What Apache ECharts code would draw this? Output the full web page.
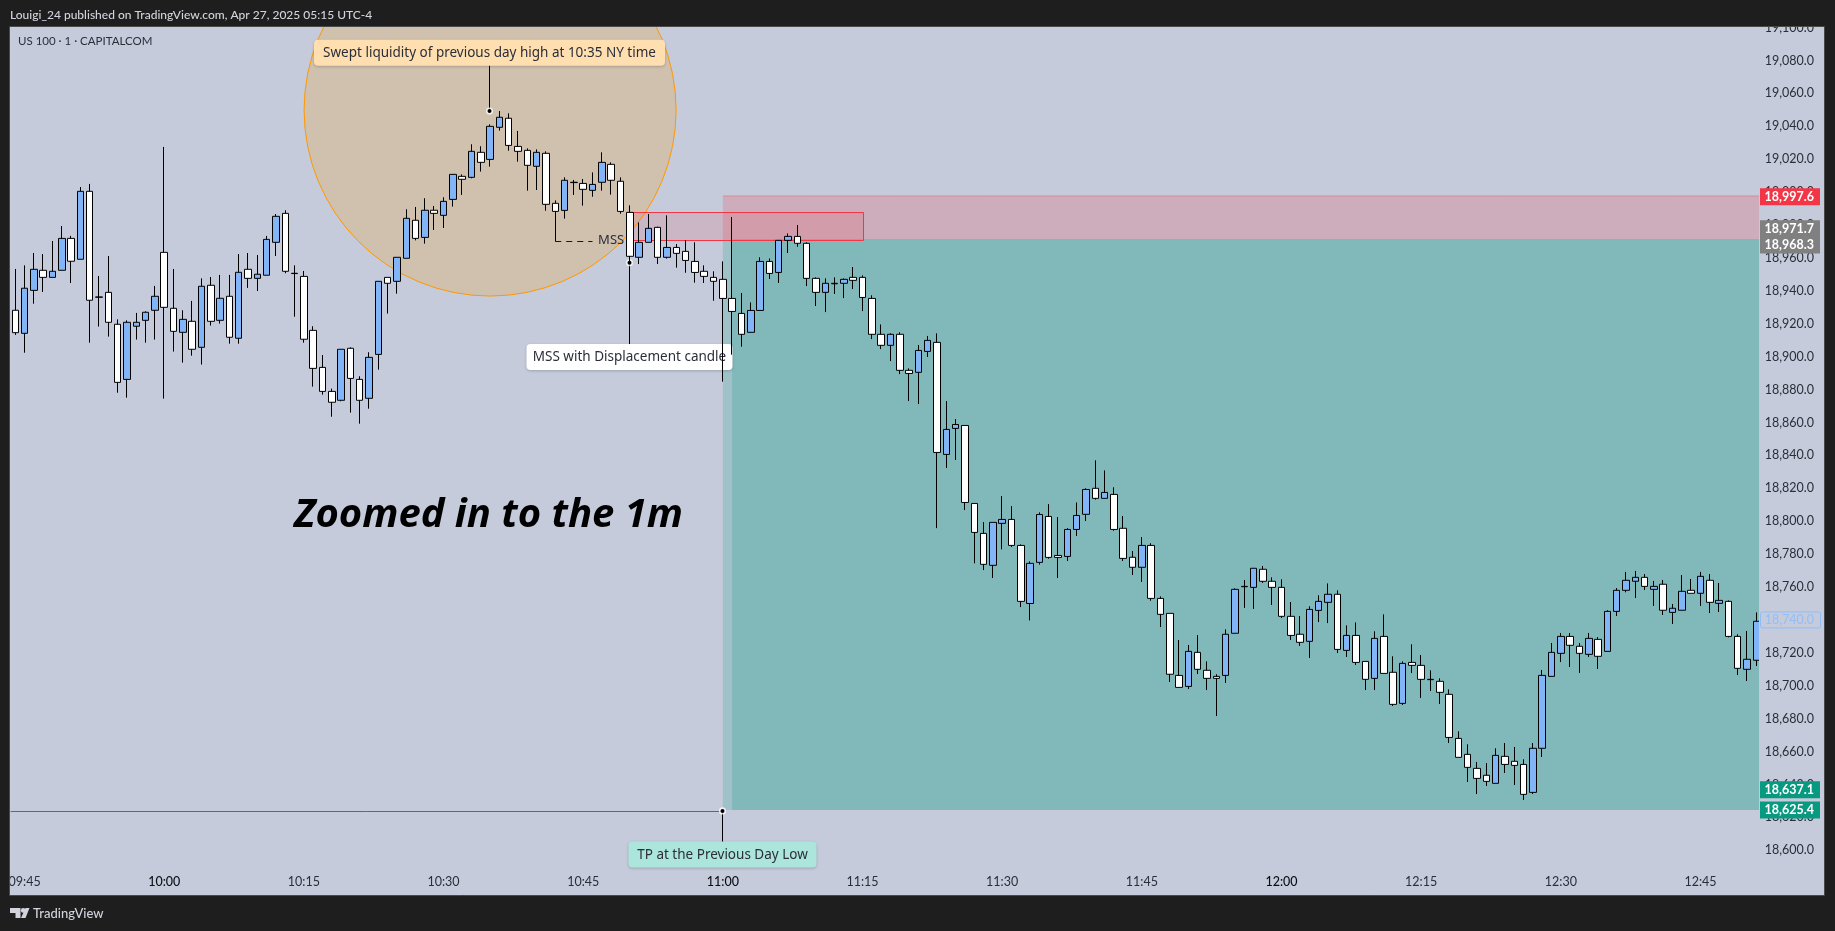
<!DOCTYPE html>
<html>
<head>
<meta charset="utf-8">
<style>html,body{margin:0;padding:0;background:#1e1e1e}#chart{width:1835px;height:931px}</style>
<script src="https://cdn.jsdelivr.net/npm/echarts@6/dist/echarts.min.js"></script>
</head>
<body>
<div id="chart"></div>
<script>
var opens = [18928.2,18914.2,18940.3,18952.5,18948.2,18952.5,18971.9,18959.2,19000.5,18936.3,
18939.1,18919.7,18886.2,18918.5,18922.1,18928.2,18963.4,18929.4,18914.8,18921.5,
18905.7,18943.4,18922.1,18936.7,18911.2,18953.1,18947.6,18949.5,18969.5,18987.1,
18950.7,18948.8,18916.0,18893.5,18878.9,18873.5,18905.1,18886.2,18874.7,18901.4,
18948.2,18945.8,18959.8,18982.9,18972.5,18989.0,18985.9,18995.6,19009.6,19009.0,
19024.2,19019.9,19039.4,19044.9,19027.8,19025.4,19015.7,19023.6,18993.2,18988.9,
19006.0,19005.3,19001.1,19006.0,19016.9,19006.6,18987.7,18960.4,18969.5,18978.6,
18960.4,18966.4,18964.0,18957.9,18951.9,18948.2,18947.0,18935.4,18926.3,18914.8,
18928.1,18957.9,18951.2,18970.7,18973.1,18968.9,18947.6,18939.1,18944.6,18944.6,
18948.2,18948.2,18935.4,18913.6,18906.9,18913.6,18891.7,18890.5,18903.2,18908.7,
18840.6,18856.4,18858.2,18810.8,18792.6,18773.2,18798.7,18801.1,18785.3,18750.0,
18775.0,18802.9,18779.2,18778.6,18795.0,18804.2,18820.0,18813.9,18816.3,18795.7,
18778.1,18772.0,18785.3,18753.1,18744.0,18706.3,18699.6,18720.3,18709.4,18705.7,
18706.3,18731.9,18760.4,18759.8,18770.8,18763.5,18759.8,18742.2,18731.3,18727.0,
18745.8,18750.7,18755.6,18721.5,18730.6,18714.8,18704.5,18730.0,18708.2,18689.3,
18714.2,18712.4,18703.9,18702.7,18694.8,18668.0,18658.3,18649.8,18645.6,18640.7,
18657.1,18654.1,18652.2,18635.2,18662.0,18705.7,18719.7,18730.0,18724.0,18719.1,
18728.2,18720.9,18745.2,18758.0,18763.5,18765.9,18758.6,18761.7,18744.6,18745.9,
18758.0,18756.2,18764.1,18750.1,18751.3,18730.0,18710.0,18715.5];
var closes = [18914.6,18941.6,18953.1,18948.2,18951.9,18971.9,18958.0,19000.5,18934.3,18936.1,
18920.9,18884.4,18920.9,18920.9,18927.0,18936.7,18930.0,18915.4,18922.7,18904.5,
18942.8,18921.5,18935.5,18911.8,18951.3,18947.6,18950.1,18971.3,18985.3,18951.9,
18950.5,18910.6,18892.9,18878.9,18872.3,18904.5,18886.8,18873.5,18899.6,18945.8,
18944.6,18960.4,18984.1,18971.9,18989.0,18987.1,18994.4,19010.8,19007.8,19024.8,
19018.1,19040.0,19045.5,19028.4,19024.8,19016.3,19024.2,18992.6,18988.3,19007.2,
19005.8,19001.7,19004.7,19018.1,19007.2,18988.3,18961.0,18969.5,18978.0,18960.4,
18966.4,18962.8,18958.5,18951.2,18948.8,18945.8,18935.4,18927.5,18913.6,18928.1,
18957.9,18950.6,18970.7,18973.1,18968.9,18947.6,18939.1,18944.6,18944.3,18947.0,
18946.4,18936.0,18913.6,18906.9,18913.6,18891.7,18889.8,18903.8,18909.9,18841.8,
18855.8,18858.8,18811.4,18793.2,18773.8,18799.3,18801.1,18785.3,18751.3,18774.4,
18804.1,18778.0,18778.0,18795.0,18803.5,18819.3,18813.9,18817.5,18795.0,18777.4,
18772.0,18785.3,18753.1,18743.4,18707.0,18699.0,18720.9,18710.0,18704.5,18704.5,
18731.3,18758.6,18760.2,18771.4,18763.5,18759.8,18742.2,18730.6,18726.4,18746.4,
18751.3,18755.6,18722.1,18730.6,18714.2,18703.9,18728.8,18707.5,18688.7,18713.6,
18712.4,18703.9,18703.7,18696.0,18668.6,18656.5,18650.4,18643.7,18641.9,18657.7,
18652.2,18651.6,18634.0,18662.0,18706.3,18720.3,18730.0,18724.6,18719.7,18728.8,
18717.9,18745.2,18758.0,18764.1,18765.9,18760.4,18760.4,18745.9,18747.1,18757.4,
18756.2,18766.5,18750.7,18751.9,18730.0,18710.6,18716.1,18739.2];
var lows = [18913.2,18902.4,18932.2,18939.3,18948.2,18952.5,18944.8,18959.2,18908.5,18918.3,
18912.2,18878.1,18875.1,18910.4,18908.5,18910.4,18874.5,18903.1,18896.4,18900.6,
18895.2,18918.9,18920.1,18907.9,18907.9,18941.8,18939.9,18949.5,18961.2,18950.7,
18924.3,18908.5,18881.8,18876.9,18863.5,18872.9,18866.0,18859.3,18868.4,18892.1,
18926.2,18938.3,18959.8,18970.7,18968.7,18977.0,18978.2,18991.2,18998.3,19008.4,
19012.5,19015.5,19037.4,19025.2,19018.5,19000.9,19001.3,18988.7,18970.1,18983.9,
18998.3,18991.8,18997.2,19000.9,18998.5,18986.9,18957.1,18956.3,18969.5,18956.3,
18959.6,18954.1,18951.0,18945.0,18944.8,18934.0,18884.8,18901.2,18906.1,18914.8,
18928.1,18947.2,18944.8,18963.0,18966.8,18942.9,18930.8,18927.1,18938.1,18935.6,
18941.1,18927.7,18910.7,18904.6,18897.3,18889.4,18873.0,18871.2,18899.8,18795.8,
18832.3,18837.2,18806.8,18774.4,18770.3,18765.5,18782.9,18784.3,18747.8,18739.7,
18773.6,18777.2,18765.5,18775.8,18791.0,18800.1,18813.1,18813.9,18794.2,18775.8,
18767.3,18763.1,18751.7,18735.7,18702.3,18699.0,18698.0,18707.1,18697.4,18681.6,
18701.7,18731.9,18747.3,18746.7,18762.5,18749.1,18741.2,18727.8,18724.2,18716.9,
18738.7,18738.1,18719.9,18717.5,18712.6,18697.4,18697.4,18707.5,18687.7,18688.3,
18707.7,18692.6,18696.8,18688.9,18665.2,18656.5,18641.5,18634.2,18639.1,18640.7,
18647.0,18639.7,18630.6,18634.2,18656.7,18705.7,18714.4,18711.4,18707.8,18717.5,
18710.2,18720.9,18742.4,18756.8,18753.3,18758.2,18748.5,18743.0,18737.5,18745.9,
18756.2,18748.5,18744.2,18744.8,18729.4,18706.5,18702.9,18712.0];
var highs = [18953.3,18955.5,18963.0,18962.4,18970.3,18979.4,18973.4,19003.1,19005.0,18949.0,
18961.2,18922.7,18922.1,18926.6,18927.6,18943.0,19027.5,18953.3,18928.2,18933.9,
18947.6,18948.4,18949.7,18949.7,18962.4,18963.0,18961.8,18973.4,18986.7,18989.0,
18955.5,18952.1,18918.5,18901.0,18880.6,18904.5,18905.7,18888.1,18902.7,18945.8,
18948.2,18960.4,18989.6,18991.0,18996.3,18991.6,18996.9,19010.8,19010.8,19029.1,
19027.9,19041.2,19049.3,19047.9,19037.2,19026.6,19026.0,19024.8,18995.0,19009.0,
19007.4,19008.0,19012.0,19024.2,19018.1,19009.0,18992.0,18981.6,18986.7,18979.0,
18985.9,18968.5,18970.7,18969.5,18955.5,18951.9,18957.9,18984.9,18938.7,18933.0,
18960.4,18959.7,18970.7,18974.9,18980.0,18969.5,18948.2,18947.6,18948.2,18947.6,
18954.5,18949.4,18937.3,18919.6,18914.2,18914.8,18892.9,18907.1,18912.6,18914.2,
18873.0,18862.1,18858.2,18810.8,18799.5,18799.3,18815.3,18809.2,18785.9,18775.6,
18805.4,18810.4,18802.5,18795.8,18811.4,18820.0,18837.0,18830.9,18820.6,18803.2,
18781.9,18790.4,18786.6,18754.3,18744.0,18727.8,18724.8,18730.8,18714.8,18707.0,
18734.3,18759.2,18764.3,18771.4,18772.8,18765.9,18764.7,18750.9,18742.4,18748.3,
18755.0,18762.2,18758.0,18736.7,18738.5,18714.8,18733.1,18743.4,18717.9,18714.8,
18725.2,18718.7,18709.4,18704.5,18697.8,18672.3,18664.4,18653.7,18653.0,18662.0,
18665.2,18662.8,18655.3,18665.2,18709.6,18726.0,18732.1,18732.1,18726.0,18732.1,
18729.6,18745.9,18759.4,18769.2,18769.8,18767.9,18763.7,18764.3,18749.7,18767.3,
18764.9,18769.2,18767.9,18762.5,18751.9,18731.3,18733.3,18744.6];

var timeTicks = ['09:45','10:00','10:15','10:30','10:45','11:00','11:15','11:30','11:45','12:00','12:15','12:30','12:45'];
var hourTicks = ['10:00','11:00','12:00'];

// drawings, anchored on candle index and price
var stopPrice = 18997.7, entryPrice = 18971.5, targetPrice = 18624.5, targetLine = 18623.9;
var positionStart = 76, positionInner = 77;
var mssBoxFrom = 66, mssBoxTo = 91, mssBoxTop = 18987.7, mssBoxBottom = 18970.5;
var mssLineFrom = 58, mssLineTo = 62.2, mssLinePrice = 18970.1, mssTextAt = 64;
var circleCentre = [51, 19049.9], circleEdgeAt = 71;
var noteTexts = ['Swept liquidity of previous day high at 10:35 NY time', 'MSS with Displacement candle', 'TP at the Previous Day Low'];
var noteAt = [51, 66, 76];
var noteBoxPrice = [19084.7, 18899.8, 18597.4];
var noteDotPrice = [19049.3, 18957.1, 18623.9];
var noteWidth = [351, 206, 188];
var noteFill = ['#ffdfb0', '#ffffff', '#ace5dc'];
var tagValues = [18997.6, 18971.7, 18968.3, 18637.1, 18625.4];
var tagColors = ['#f23645', '#808080', '#808080', '#089981', '#089981'];
var lastValue = 18740.0;

var uiFont = 'Lato, "Noto Sans", sans-serif';
var noteFont = '"Noto Sans", sans-serif';
var plotBg = '#c5cbda', darkBg = '#1e1e1e', frame = '#4a4a4a';

var categories = [];
for (var m = 9 * 60 + 44, n = 0; n < opens.length; n++, m++) {
  categories.push(('0' + Math.floor(m / 60)).slice(-2) + ':' + ('0' + (m % 60)).slice(-2));
}
function priceText(v) {
  return v.toLocaleString('en-US', {minimumFractionDigits: 1, maximumFractionDigits: 1});
}

function zoneRect(api, fromIdx, toX, top, bottom, fill) {
  var a = api.coord([fromIdx, top]), b = api.coord([fromIdx, bottom]);
  return {type: 'rect', shape: {x: a[0], y: a[1], width: toX - a[0], height: b[1] - a[1]}, style: {fill: fill}};
}

function renderDrawings(params, api) {
  var right = params.coordSys.x + params.coordSys.width;
  var left = params.coordSys.x;
  var kids = [];

  // orange circle
  var c = api.coord(circleCentre), e = api.coord([circleEdgeAt, circleCentre[1]]);
  kids.push({type: 'circle', shape: {cx: c[0], cy: c[1], r: e[0] - c[0] - 0.2},
    style: {fill: 'rgba(255,152,0,0.2)', stroke: '#ff9800', lineWidth: 1}});

  // position zones
  kids.push(zoneRect(api, positionStart, right, stopPrice, entryPrice, 'rgba(242,54,69,0.2)'));
  kids.push(zoneRect(api, positionStart, right, entryPrice, targetPrice, 'rgba(8,153,129,0.2)'));
  kids.push(zoneRect(api, positionInner, right, entryPrice, targetPrice, 'rgba(8,153,129,0.2)'));
  var st = api.coord([positionStart, stopPrice]);
  kids.push({type: 'line', shape: {x1: st[0], y1: st[1], x2: right, y2: st[1]}, style: {stroke: 'rgba(242,54,69,0.35)', lineWidth: 1}});

  // MSS box
  var b1 = api.coord([mssBoxFrom, mssBoxTop]), b2 = api.coord([mssBoxTo, mssBoxBottom]);
  kids.push({type: 'rect', shape: {x: Math.round(b1[0]) + 0.5, y: Math.round(b1[1]) + 0.5, width: Math.round(b2[0] - b1[0]), height: Math.round(b2[1] - b1[1])},
    style: {fill: 'rgba(242,54,69,0.14)', stroke: '#f23645', lineWidth: 1}});

  // MSS dashed line + text
  var l1 = api.coord([mssLineFrom, mssLinePrice]), l2 = api.coord([mssLineTo, mssLinePrice]);
  var ly = Math.round(l1[1]) + 0.5;
  kids.push({type: 'line', shape: {x1: l1[0], y1: ly, x2: l2[0], y2: ly}, style: {stroke: '#131722', lineWidth: 1, lineDash: [6, 5]}});
  kids.push({type: 'text', x: api.coord([mssTextAt, mssLinePrice])[0], y: ly - 1,
    style: {text: 'MSS', fill: '#2a2e39', font: '13px ' + noteFont, textAlign: 'center', textVerticalAlign: 'middle'}});

  // target line
  var t = api.coord([positionStart, targetLine]);
  kids.push({type: 'line', shape: {x1: left, y1: Math.round(t[1]) + 0.5, x2: t[0], y2: Math.round(t[1]) + 0.5}, style: {stroke: '#3b68d8', lineWidth: 1}});

  // callouts
  noteTexts.forEach(function (txt, i) {
    var dot = api.coord([noteAt[i], noteDotPrice[i]]);
    var box = api.coord([noteAt[i], noteBoxPrice[i]]);
    var x = Math.round(dot[0]) - 0.5;
    kids.push({type: 'line', shape: {x1: x, y1: dot[1], x2: x, y2: box[1]}, style: {stroke: '#000', lineWidth: 1}});
    kids.push({type: 'rect', shape: {x: x - noteWidth[i] / 2, y: box[1] - 13, width: noteWidth[i], height: 26, r: 4},
      style: {fill: noteFill[i], shadowBlur: 3, shadowColor: 'rgba(0,0,0,0.2)', shadowOffsetY: 1}});
    kids.push({type: 'text', x: x, y: box[1] + 0.5, style: {text: txt, fill: '#2a2e39', font: '13.5px ' + noteFont, textAlign: 'center', textVerticalAlign: 'middle'}});
    kids.push({type: 'circle', shape: {cx: x, cy: dot[1], r: 3.6}, style: {fill: 'rgba(255,255,255,0.75)'}});
    kids.push({type: 'circle', shape: {cx: x, cy: dot[1], r: 2}, style: {fill: '#000'}});
  });

  return {type: 'group', children: kids};
}

function renderTags(params, api) {
  var x = params.coordSys.x + params.coordSys.width - 1;
  var kids = [];
  var ly = api.coord([0, lastValue])[1];
  kids.push({type: 'rect', shape: {x: x + 0.5, y: ly - 8, width: 60, height: 16, r: 2}, style: {fill: plotBg, stroke: '#8fbdfa', lineWidth: 1}});
  kids.push({type: 'text', x: x + 54, y: ly, style: {text: priceText(lastValue), fill: '#93bdf8', font: '12.5px ' + uiFont, textAlign: 'right', textVerticalAlign: 'middle'}});
  tagValues.forEach(function (v, i) {
    var y = api.coord([0, v])[1] + 0.6;
    if (i === 1) y -= 10.6; // pushed up by the label below it
    if (i === 4) y += 1;
    kids.push({type: 'rect', shape: {x: x, y: y - 8.5, width: 60, height: 17}, style: {fill: tagColors[i]}});
    kids.push({type: 'text', x: x + 54, y: y, style: {text: priceText(v), fill: '#fff', font: 'bold 12.5px ' + uiFont, textAlign: 'right', textVerticalAlign: 'middle'}});
  });
  return {type: 'group', children: kids};
}

var chart = echarts.init(document.getElementById('chart'), null, {renderer: 'canvas'});
chart.setOption({
  animation: false,
  backgroundColor: darkBg,
  textStyle: {fontFamily: uiFont},
  grid: {left: 10.6, top: 27.6, width: 1750.4, height: 822.7},
  xAxis: {
    type: 'category',
    data: categories,
    boundaryGap: true,
    axisLine: {show: false},
    axisTick: {show: false},
    splitLine: {show: false},
    axisLabel: {
      margin: 25,
      color: '#2a2e39',
      fontSize: 12.5,
      fontFamily: uiFont,
      hideOverlap: false,
      interval: function (i, v) { return timeTicks.indexOf(v) >= 0; },
      formatter: function (v) { return hourTicks.indexOf(v) >= 0 ? '{b|' + v + '}' : v; },
      rich: {b: {fontWeight: 500, color: '#0b0e14', fontSize: 12.5, fontFamily: uiFont}}
    },
    z: 10
  },
  yAxis: {
    type: 'value',
    position: 'right',
    min: 18600,
    max: 19100,
    interval: 20,
    axisLine: {show: false},
    axisTick: {show: false},
    splitLine: {show: false},
    axisLabel: {
      inside: false,
      margin: 53,
      align: 'right',
      color: '#2a2e39',
      fontSize: 12.5,
      fontFamily: uiFont,
      formatter: priceText
    },
    z: 10
  },
  series: [
    {type: 'custom', name: 'drawings', z: 1, clip: false, silent: true, data: [[0, 18800]], renderItem: renderDrawings},
    {
      type: 'candlestick',
      name: 'US 100',
      z: 2,
      barWidth: 7,
      data: opens.map(function (o, i) { return [o, closes[i], lows[i], highs[i]]; }),
      itemStyle: {color: '#82b5f8', color0: '#ffffff', borderColor: '#000', borderColor0: '#000', borderColorDoji: '#000', borderWidth: 1}
    },
    {type: 'custom', name: 'tags', z: 15, clip: false, silent: true, data: [[0, 18800]], renderItem: renderTags}
  ],
  graphic: [
    {type: 'rect', z: -1, shape: {x: 10, y: 27, width: 1815, height: 868}, style: {fill: plotBg}},
    // price pane masks the last candle's overhang
    {type: 'rect', z: 5, shape: {x: 1759, y: 27, width: 66, height: 868}, style: {fill: plotBg}},
    // window chrome on top of everything clipped by the pane
    {type: 'rect', z: 20, shape: {x: 0, y: 0, width: 1835, height: 26}, style: {fill: darkBg}},
    {type: 'rect', z: 21, shape: {x: 9.5, y: 26.5, width: 1815, height: 869}, style: {fill: 'none', stroke: frame, lineWidth: 1}},
    {type: 'text', z: 22, x: 10, y: 15, style: {text: 'Louigi_24 published on TradingView.com, Apr 27, 2025 05:15 UTC-4', fill: '#d1d4dc', font: '500 12px ' + uiFont, textVerticalAlign: 'middle'}},
    {type: 'text', z: 22, x: 18, y: 41.5, style: {text: 'US 100 · 1 · CAPITALCOM', fill: '#2a2e39', font: '11.5px ' + uiFont, textVerticalAlign: 'middle'}},
    {type: 'text', z: 22, x: 488.5, y: 516, style: {text: 'Zoomed in to the 1m', fill: '#000', font: 'italic bold 40px "Noto Sans", sans-serif', textAlign: 'center', textVerticalAlign: 'middle'}},
    {type: 'polygon', z: 22, shape: {points: [[10, 908], [20.5, 908], [20.5, 918], [15.5, 918], [15.5, 913], [10, 913]]}, style: {fill: '#d1d4dc'}},
    {type: 'circle', z: 22, shape: {cx: 23.2, cy: 910.4, r: 2.4}, style: {fill: '#d1d4dc'}},
    {type: 'polygon', z: 22, shape: {points: [[25.5, 908], [29.5, 908], [25.5, 918], [21, 918]]}, style: {fill: '#d1d4dc'}},
    {type: 'text', z: 22, x: 33, y: 914, style: {text: 'TradingView', fill: '#d1d4dc', font: '500 13px ' + uiFont, textVerticalAlign: 'middle'}}
  ]
});
</script>
</body>
</html>
